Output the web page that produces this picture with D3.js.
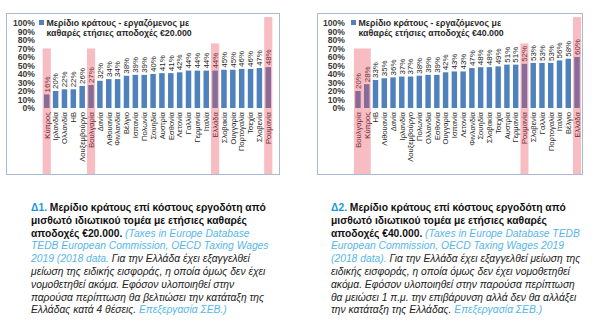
<!DOCTYPE html>
<html><head><meta charset="utf-8">
<script src="https://cdn.jsdelivr.net/npm/d3@7"></script>
<style>html,body{margin:0;padding:0;background:#fff;} svg{display:block}</style>
</head><body><svg id="c" width="600" height="324"></svg>
<script>
// State share of employer cost, private-sector employee, by net annual pay
const countries20 = ["Κύπρος","Ιρλανδία","Ολλανδία","ΗΒ","Λουξεμβούργο","Βουλγαρία","Δανία","Λιθουανία","Φινλανδία","Βέλγιο","Ισπανία","Πολωνία","Σουηδία","Αυστρία","Εσθονία","Λετονία","Γαλλία","Γερμανία","Ιταλία","Ελλάδα","Σλοβακία","Ουγγαρία","Πορτογαλία","Τσεχία","Σλοβενία","Ρουμανία"];
const share20 = [16,20,22,22,26,27,32,34,34,38,39,39,40,41,41,42,44,44,44,44,45,45,46,46,47,48];
const countries40 = ["Βουλγαρία","Κύπρος","ΗΒ","Λιθουανία","Δανία","Ιρλανδία","Λουξεμβούργο","Πολωνία","Ολλανδία","Εσθονία","Ουγγαρία","Ισπανία","Λετονία","Φινλανδία","Σουηδία","Σλοβακία","Τσεχία","Αυστρία","Γερμανία","Ρουμανία","Σλοβενία","Γαλλία","Πορτογαλία","Ιταλία","Βέλγιο","Ελλάδα"];
const share40 = [20,28,33,35,36,37,37,38,39,39,42,43,43,47,48,48,49,51,51,52,53,53,53,56,58,60];
const yTicks = [0,10,20,30,40,50,60,70,80,90,100];
const legend20 = ["Μερίδιο κράτους - εργαζόμενος με","καθαρές ετήσιες αποδοχές €20.000"];
const legend40 = ["Μερίδιο κράτους - εργαζόμενος με","καθαρές ετήσιες αποδοχές €40.000"];
const marked20 = ["Κύπρος","Βουλγαρία","Ελλάδα","Ρουμανία"];
const marked40 = ["Βουλγαρία","Κύπρος","Ρουμανία","Ελλάδα"];

const caption20 = [
  [["Δ1.","num"],[" Μερίδιο κράτους επί κόστους εργοδότη από","head"]],
  [["μισθωτό ιδιωτικού τομέα με ετήσιες καθαρές","head"]],
  [["αποδοχές €20.000.","head"],[" (Taxes in Europe Database","cite"]],
  [["TEDB European Commission, OECD Taxing Wages","cite"]],
  [["2019 (2018 data.","cite"],[" Για την Ελλάδα έχει εξαγγελθεί","note"]],
  [["μείωση της ειδικής εισφοράς, η οποία όμως δεν έχει","note"]],
  [["νομοθετηθεί ακόμα. Εφόσον υλοποιηθεί στην","note"]],
  [["παρούσα περίπτωση θα βελτιώσει την κατάταξη της","note"]],
  [["Ελλάδας κατά 4 θέσεις.","note"],[" Επεξεργασία ΣΕΒ.)","cite"]]
];
const caption40 = [
  [["Δ2.","num"],[" Μερίδιο κράτους επί κόστους εργοδότη από","head"]],
  [["μισθωτό ιδιωτικού τομέα με ετήσιες καθαρές","head"]],
  [["αποδοχές €40.000.","head"],[" (Taxes in Europe Database TEDB","cite"]],
  [["European Commission, OECD Taxing Wages 2019","cite"]],
  [["(2018 data).","cite"],[" Για την Ελλάδα έχει εξαγγελθεί μείωση της","note"]],
  [["ειδικής εισφοράς, η οποία όμως δεν έχει νομοθετηθεί","note"]],
  [["ακόμα. Εφόσον υλοποιηθεί στην παρούσα περίπτωση","note"]],
  [["θα μειώσει 1 π.μ. την επιβάρυνση αλλά δεν θα αλλάξει","note"]],
  [["την κατάταξη της Ελλάδας.","note"],[" Επεξεργασία ΣΕΒ.)","cite"]]
];

const svg = d3.select("#c");
const FONT = "'Liberation Sans', Arial, sans-serif";
const BAR = "#4f81bd";
const MARK = "rgba(236,70,90,0.36)";

function panel(cfg) {
  const g = svg.append("g");
  const {frame, x0, x1, categories, values, marked, legend} = cfg;

  g.append("rect").attr("x", frame.x + 0.5).attr("y", frame.y + 0.5)
    .attr("width", frame.w).attr("height", frame.h)
    .attr("fill", "#fff").attr("stroke", "#a9bad2").attr("stroke-width", 1);

  const x = d3.scaleBand().domain(categories).range([x0, x1]).paddingInner(0.38).paddingOuter(0.19);
  const y = d3.scaleLinear().domain([0, 100]).range([108, 23]);

  // y axis labels only (no axis line)
  const yAxis = d3.axisLeft(y).tickValues(yTicks).tickFormat(d => d + "%").tickSize(0).tickPadding(0);
  const ya = g.append("g").attr("transform", `translate(${cfg.yLabelX},0)`).call(yAxis);
  ya.select(".domain").remove();
  ya.selectAll("text").attr("font-family", FONT).attr("font-size", 8.6)
    .attr("font-weight", "bold").attr("fill", "#3a3a3a");

  const data = categories.map((c, i) => ({c, v: values[i]}));

  g.selectAll(".bar").data(data).join("rect").attr("class", "bar")
    .attr("x", d => x(d.c)).attr("width", x.bandwidth())
    .attr("y", d => y(d.v)).attr("height", d => y(0) - y(d.v))
    .attr("fill", BAR);

  g.selectAll(".val").data(data).join("text").attr("class", "val")
    .attr("transform", d => `translate(${x(d.c) + x.bandwidth() / 2 + 2.8},${y(d.v) - 2}) rotate(-90)`)
    .attr("font-family", FONT).attr("font-size", 7.9).attr("fill", "#1e1e1e")
    .text(d => d.v + "%");

  g.selectAll(".cat").data(data).join("text").attr("class", "cat")
    .attr("transform", d => `translate(${x(d.c) + x.bandwidth() / 2 + 2.8},${y(0) + 4}) rotate(-90)`)
    .attr("text-anchor", "end")
    .attr("font-family", FONT).attr("font-size", 7.6).attr("fill", "#1e1e1e")
    .text(d => d.c);

  // translucent highlight strips; adjacent highlighted countries share one strip
  const idx = marked.map(m => categories.indexOf(m)).sort((a, b) => a - b);
  const groups = [];
  idx.forEach(i => {
    const last = groups[groups.length - 1];
    if (last && last.to === i - 1) last.to = i; else groups.push({from: i, to: i});
  });
  const step = x.step();
  groups.forEach(gr => {
    const top = cfg.reach[categories[gr.from]];
    const left = x(categories[gr.from]) + x.bandwidth() / 2 - step * 0.46;
    const right = x(categories[gr.to]) + x.bandwidth() / 2 + step * 0.46;
    g.append("rect").attr("x", left).attr("width", right - left)
      .attr("y", y(top)).attr("height", frame.y + frame.h - y(top))
      .attr("fill", MARK);
  });

  // legend
  g.append("rect").attr("x", cfg.legendX).attr("y", 20).attr("width", 5).attr("height", 5).attr("fill", BAR);
  g.selectAll(".leg").data(legend).join("text").attr("class", "leg")
    .attr("x", cfg.legendX + 7.5).attr("y", (d, i) => 25.5 + i * 10.5)
    .attr("font-family", FONT).attr("font-size", 8.8).attr("font-weight", "bold").attr("fill", "#2a2a2a")
    .text(d => d);
}

panel({
  frame: {x: 6, y: 13, w: 273, h: 161},
  x0: 42.3, x1: 272.7, categories: countries20, values: share20, marked: marked20,
  reach: {"Κύπρος": 70, "Βουλγαρία": 70, "Ελλάδα": 76, "Ρουμανία": 107},
  yLabelX: 35, legendX: 39, legend: legend20
});
panel({
  frame: {x: 317, y: 13, w: 265, h: 161},
  x0: 353.6, x1: 581.4, categories: countries40, values: share40, marked: marked40,
  reach: {"Βουλγαρία": 70, "Ρουμανία": 76, "Ελλάδα": 107},
  yLabelX: 345, legendX: 351, legend: legend40
});

const styles = {
  num:  {fill: "#2196d8", weight: "bold", style: "normal"},
  head: {fill: "#111", weight: "bold", style: "normal"},
  cite: {fill: "#56b6ea", weight: "normal", style: "italic"},
  note: {fill: "#222", weight: "normal", style: "italic"}
};
function caption(lines, x0, y0) {
  const t = svg.append("text").attr("font-family", FONT).attr("font-size", 10.3);
  lines.forEach((segs, i) => {
    segs.forEach(([txt, k], j) => {
      const s = styles[k];
      const ts = t.append("tspan").attr("fill", s.fill).attr("font-weight", s.weight)
        .attr("font-style", s.style).attr("xml:space", "preserve").text(txt);
      if (j === 0) ts.attr("x", x0).attr("y", y0 + i * 12.8);
    });
  });
}
caption(caption20, 31, 211);
caption(caption40, 331, 211);
</script>
</body></html>
